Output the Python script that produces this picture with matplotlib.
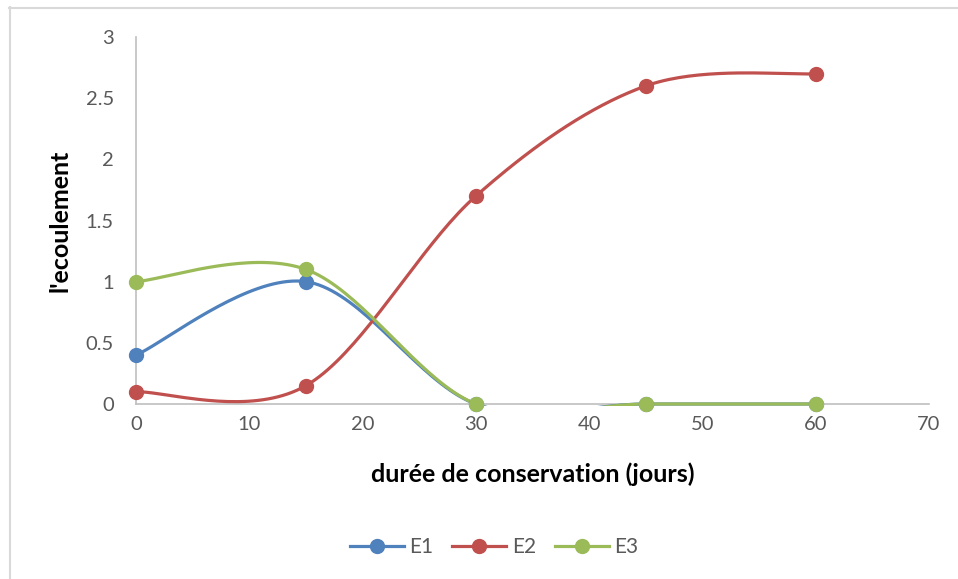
import numpy as np
import matplotlib.pyplot as plt
from matplotlib.lines import Line2D
from matplotlib.patches import Rectangle
from matplotlib.transforms import IdentityTransform

plt.rcParams['font.family'] = ['Lato', 'DejaVu Sans']

# Measurements taken at each storage day
jours = [0, 15, 30, 45, 60]
series = {
    'E1': [0.4, 1.0, 0.0, 0.0, 0.0],
    'E2': [0.1, 0.15, 1.7, 2.6, 2.7],
    'E3': [1.0, 1.1, 0.0, 0.0, 0.0],
}
couleurs = {'E1': '#4F81BD', 'E2': '#C0504D', 'E3': '#9BBB59'}

x_ticks = list(range(0, 71, 10))
y_ticks = [0, 0.5, 1, 1.5, 2, 2.5, 3]
y_tick_labels = ['0', '0.5', '1', '1.5', '2', '2.5', '3']

W, H, DPI = 958, 579, 100
GRIS = '#595959'


def smooth_curve(ax, xs, ys, n=40):
    """Spreadsheet-style smoothed line: cubic Bezier segments built in screen space."""
    pts = ax.transData.transform(np.column_stack([xs, ys]))
    p = np.vstack([pts[0], pts, pts[-1]])
    out = []
    for i in range(1, len(p) - 2):
        p0, p1, p2, p3 = p[i - 1], p[i], p[i + 1], p[i + 2]
        c1 = p1 + (p2 - p0) / 6.0
        c2 = p2 - (p3 - p1) / 6.0
        t = np.linspace(0, 1, n)[:, None]
        seg = ((1 - t) ** 3) * p1 + 3 * ((1 - t) ** 2) * t * c1 \
            + 3 * (1 - t) * t ** 2 * c2 + t ** 3 * p2
        out.append(seg if i == 1 else seg[1:])
    out = np.vstack(out)
    data = ax.transData.inverted().transform(out)
    return data[:, 0], data[:, 1]


fig = plt.figure(figsize=(W / DPI, H / DPI), dpi=DPI)
ax = fig.add_axes([136 / W, 1 - 404 / H, (929 - 136) / W, (404 - 37) / H])
ax.set_xlim(0, 70)
ax.set_ylim(0, 3)

# plot area clip, a hair lower than the axis so flat lines at 0 keep full width
x0, y0 = ax.transAxes.transform((0, 0))
x1, y1 = ax.transAxes.transform((1, 1))
clip = Rectangle((x0 - 5, y0 - 1.5), x1 - x0 + 10, y1 - y0 + 5,
                 transform=IdentityTransform())

for nom, vals in series.items():
    sx, sy = smooth_curve(ax, jours, vals)
    ln, = ax.plot(sx, sy, color=couleurs[nom], lw=2.3, solid_capstyle='round', zorder=3)
    ln.set_clip_path(clip)
    ax.plot(jours, vals, 'o', color=couleurs[nom], ms=10, clip_on=False, zorder=4)

for side in ['top', 'right']:
    ax.spines[side].set_visible(False)
for side in ['left', 'bottom']:
    ax.spines[side].set_color('#BFBFBF')
    ax.spines[side].set_linewidth(1.2)

ax.set_xticks(x_ticks)
ax.set_yticks(y_ticks)
ax.set_yticklabels(y_tick_labels)
ax.tick_params(axis='both', length=0, labelsize=14.5, labelcolor=GRIS)
ax.tick_params(axis='y', pad=16)
ax.tick_params(axis='x', pad=9)

ax.set_xlabel('durée de conservation (jours)', fontsize=18, fontweight='bold')
ax.xaxis.set_label_coords(0.5, -0.19)
ax.xaxis.label.set_va('center')
ax.set_ylabel("l'ecoulement", fontsize=18, fontweight='bold')
ax.yaxis.set_label_coords(-0.096, 0.5)
ax.yaxis.label.set_va('center')

handles = [Line2D([], [], color=couleurs[k], lw=2.3, marker='o', ms=10) for k in series]
fig.legend(handles, list(series), loc='center', bbox_to_anchor=(494 / W, 1 - 547 / H),
           ncol=3, frameon=False, fontsize=15, handlelength=2.6, handletextpad=0.25,
           columnspacing=0.9, labelcolor=GRIS)

# Chart area border (top and left edges)
fig.add_artist(Line2D([9 / W, 1], [1 - 7.5 / H, 1 - 7.5 / H], color='#D9D9D9', lw=1.5,
                      transform=fig.transFigure))
fig.add_artist(Line2D([9.5 / W, 9.5 / W], [0, 1 - 7 / H], color='#D9D9D9', lw=1.5,
                      transform=fig.transFigure))

fig.savefig('out.png', dpi=DPI)
